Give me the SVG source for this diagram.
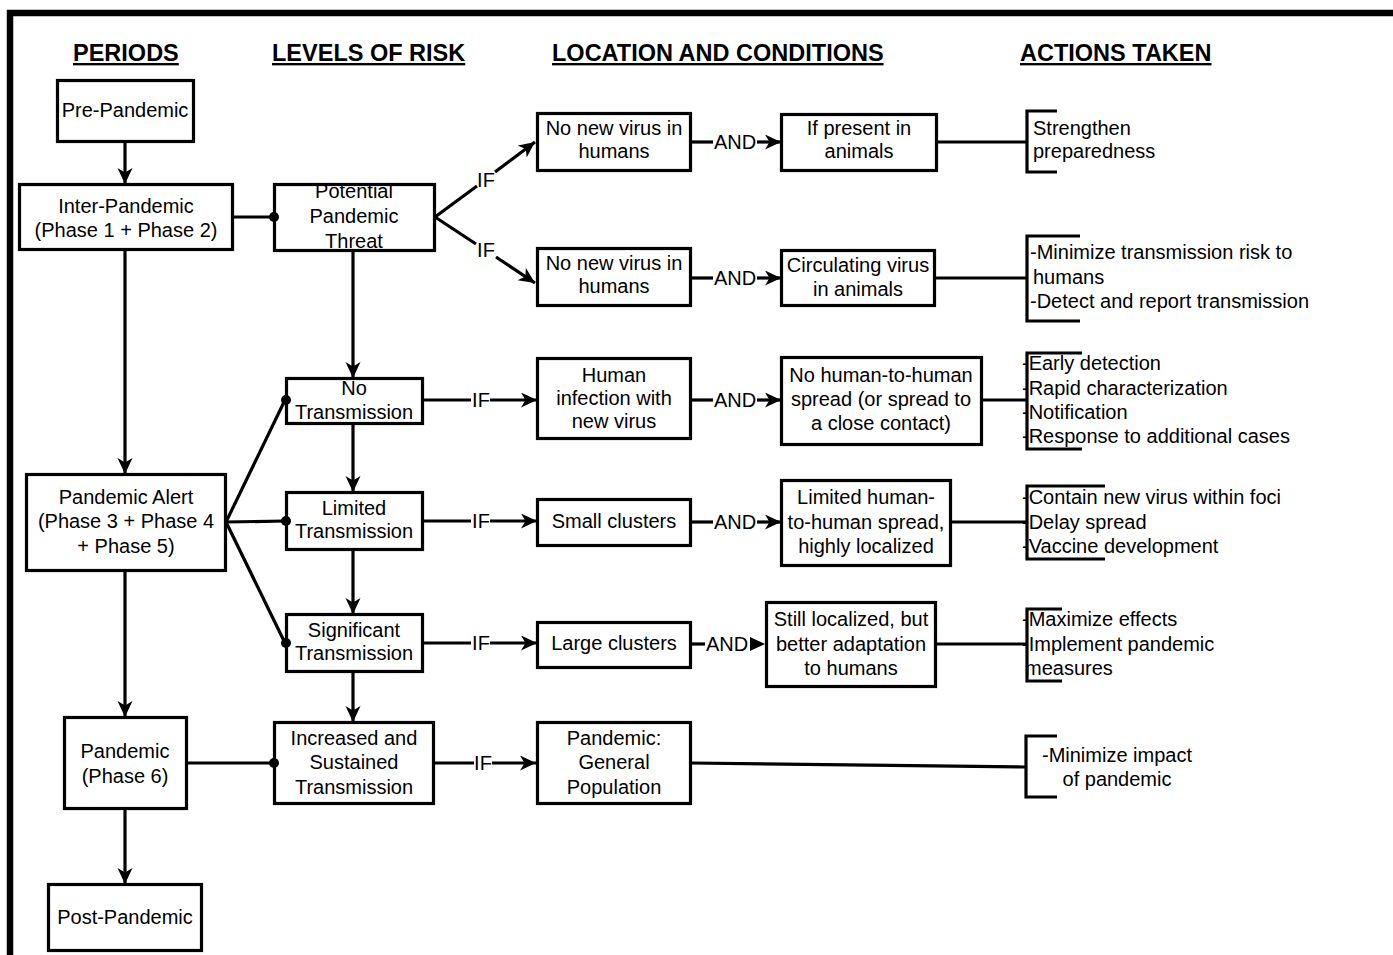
<svg xmlns="http://www.w3.org/2000/svg" width="1393" height="955" viewBox="0 0 1393 955">
<style>
.box{fill:#fff;stroke:#000;stroke-width:3.2}
.ln{fill:none;stroke:#000;stroke-width:3.2}
.arr{fill:none;stroke:#000;stroke-width:3.2;marker-end:url(#ah)}
.t{font-family:"Liberation Sans",Arial,sans-serif;font-size:20px;fill:#000}
.c{text-anchor:middle}
.h{font-family:"Liberation Sans",Arial,sans-serif;font-size:23.5px;font-weight:bold;text-decoration:underline;fill:#000}
.dot{fill:#000}
</style>
<defs>
<marker id="ah" markerUnits="userSpaceOnUse" markerWidth="18" markerHeight="16" refX="16" refY="7.5" orient="auto">
<path d="M0,0 L16,7.5 L0,15 L4.5,7.5 z" fill="#000"/>
</marker>
</defs>
<rect width="1393" height="955" fill="#fff"/>
<path d="M10,955 V13 H1393" fill="none" stroke="#000" stroke-width="6.5"/>

<g id="headers">
<text class="h" x="73" y="61">PERIODS</text>
<text class="h" x="272" y="61">LEVELS OF RISK</text>
<text class="h" x="552" y="61">LOCATION AND CONDITIONS</text>
<text class="h" x="1020" y="61">ACTIONS TAKEN</text>
</g>

<g id="pre-pandemic"><rect class="box" x="57.5" y="80.5" width="136" height="61"/><text class="t c" x="125" y="117">Pre-Pandemic</text></g>
<g id="inter-pandemic"><rect class="box" x="19.5" y="184.5" width="213" height="65"/><text class="t c" x="126" y="213">Inter-Pandemic</text><text class="t c" x="126" y="237">(Phase 1 + Phase 2)</text></g>
<g id="pandemic-alert"><rect class="box" x="26.5" y="474.5" width="199" height="96"/><text class="t c" x="126" y="504">Pandemic Alert</text><text class="t c" x="126" y="528">(Phase 3 + Phase 4</text><text class="t c" x="126" y="553">+ Phase 5)</text></g>
<g id="pandemic"><rect class="box" x="64.5" y="717.5" width="122" height="91"/><text class="t c" x="125" y="758">Pandemic</text><text class="t c" x="125" y="783">(Phase 6)</text></g>
<g id="post-pandemic"><rect class="box" x="48.5" y="884.5" width="153" height="66"/><text class="t c" x="125" y="924">Post-Pandemic</text></g>

<g id="ppt"><rect class="box" x="274.5" y="184.5" width="160" height="66"/><text class="t c" x="354" y="198">Potential</text><text class="t c" x="354" y="223">Pandemic</text><text class="t c" x="354" y="248">Threat</text></g>
<g id="no-trans"><rect class="box" x="286.5" y="378.5" width="136" height="45"/><text class="t c" x="354" y="395">No</text><text class="t c" x="354" y="419">Transmission</text></g>
<g id="lim-trans"><rect class="box" x="286.5" y="492.5" width="136" height="57"/><text class="t c" x="354" y="515">Limited</text><text class="t c" x="354" y="538">Transmission</text></g>
<g id="sig-trans"><rect class="box" x="286.5" y="614.5" width="136" height="57"/><text class="t c" x="354" y="637">Significant</text><text class="t c" x="354" y="660">Transmission</text></g>
<g id="inc-trans"><rect class="box" x="274.5" y="722.5" width="159" height="81"/><text class="t c" x="354" y="745">Increased and</text><text class="t c" x="354" y="769">Sustained</text><text class="t c" x="354" y="794">Transmission</text></g>

<g id="loc1"><rect class="box" x="537.5" y="113.5" width="153" height="57"/><text class="t c" x="614" y="135">No new virus in</text><text class="t c" x="614" y="158">humans</text></g>
<g id="loc2"><rect class="box" x="537.5" y="248.5" width="153" height="57"/><text class="t c" x="614" y="270">No new virus in</text><text class="t c" x="614" y="293">humans</text></g>
<g id="loc3"><rect class="box" x="537.5" y="358.5" width="153" height="80"/><text class="t c" x="614" y="382">Human</text><text class="t c" x="614" y="405">infection with</text><text class="t c" x="614" y="428">new virus</text></g>
<g id="loc4"><rect class="box" x="537.5" y="499.5" width="153" height="46"/><text class="t c" x="614" y="528">Small clusters</text></g>
<g id="loc5"><rect class="box" x="537.5" y="622.5" width="153" height="45"/><text class="t c" x="614" y="650">Large clusters</text></g>
<g id="loc6"><rect class="box" x="537.5" y="722.5" width="153" height="81"/><text class="t c" x="614" y="745">Pandemic:</text><text class="t c" x="614" y="769">General</text><text class="t c" x="614" y="794">Population</text></g>

<g id="cond1"><rect class="box" x="781.5" y="114.5" width="155" height="56"/><text class="t c" x="859" y="135">If present in</text><text class="t c" x="859" y="158">animals</text></g>
<g id="cond2"><rect class="box" x="781.5" y="250.5" width="153" height="55"/><text class="t c" x="858" y="272">Circulating virus</text><text class="t c" x="858" y="296">in animals</text></g>
<g id="cond3"><rect class="box" x="781.5" y="357.5" width="200" height="87"/><text class="t c" x="881" y="382">No human-to-human</text><text class="t c" x="881" y="406">spread (or spread to</text><text class="t c" x="881" y="430">a close contact)</text></g>
<g id="cond4"><rect class="box" x="781.5" y="480.5" width="169" height="85"/><text class="t c" x="866" y="504">Limited human-</text><text class="t c" x="866" y="529">to-human spread,</text><text class="t c" x="866" y="553">highly localized</text></g>
<g id="cond5"><rect class="box" x="766.5" y="602.5" width="169" height="84"/><text class="t c" x="851" y="626">Still localized, but</text><text class="t c" x="851" y="651">better adaptation</text><text class="t c" x="851" y="675">to humans</text></g>

<g id="act1"><path class="ln" d="M1057,111 H1027 V172 H1057"/><text class="t" x="1033" y="135">Strengthen</text><text class="t" x="1033" y="158">preparedness</text></g>
<g id="act2"><path class="ln" d="M1080,236 H1027 V321 H1080"/><text class="t" x="1030" y="259">-Minimize transmission risk to</text><text class="t" x="1033" y="284">humans</text><text class="t" x="1030" y="308">-Detect and report transmission</text></g>
<g id="act3"><text class="t" x="1022" y="370">-Early detection</text><text class="t" x="1022" y="395">-Rapid characterization</text><text class="t" x="1022" y="419">-Notification</text><text class="t" x="1022" y="443">-Response to additional cases</text><path class="ln" d="M1082,353 H1027 V449 H1082"/></g>
<g id="act4"><text class="t" x="1022" y="504">-Contain new virus within foci</text><text class="t" x="1022" y="529">-Delay spread</text><text class="t" x="1022" y="553">-Vaccine development</text><path class="ln" d="M1105,486 H1027 V559 H1105"/></g>
<g id="act5"><text class="t" x="1022" y="626">-Maximize effects</text><text class="t" x="1022" y="651">-Implement pandemic</text><text class="t" x="1025" y="675">measures</text><path class="ln" d="M1062,609 H1027 V681 H1062"/></g>
<g id="act6"><path class="ln" d="M1057,736 H1026 V797 H1057"/><text class="t c" x="1117" y="762">-Minimize impact</text><text class="t c" x="1117" y="786">of pandemic</text></g>

<g id="connectors">
<line class="arr" x1="125" y1="142" x2="125" y2="184"/>
<line class="arr" x1="125" y1="250" x2="125" y2="474"/>
<line class="arr" x1="125" y1="571" x2="125" y2="717"/>
<line class="arr" x1="125" y1="809" x2="125" y2="884"/>
<line class="ln" x1="233" y1="217" x2="273" y2="217"/>
<line class="ln" x1="226" y1="522" x2="285" y2="400"/>
<line class="ln" x1="226" y1="522" x2="285" y2="521"/>
<line class="ln" x1="226" y1="522" x2="285" y2="643"/>
<line class="ln" x1="187" y1="763" x2="273" y2="763"/>
<line class="arr" x1="353" y1="251" x2="353" y2="378"/>
<line class="arr" x1="353" y1="424" x2="353" y2="492"/>
<line class="arr" x1="353" y1="550" x2="353" y2="614"/>
<line class="arr" x1="353" y1="672" x2="353" y2="722"/>
<line class="ln" x1="435" y1="217" x2="477" y2="186"/>
<line class="arr" x1="495" y1="172" x2="535" y2="142"/>
<line class="ln" x1="435" y1="217" x2="476" y2="244"/>
<line class="arr" x1="496" y1="257" x2="535" y2="283"/>
<line class="ln" x1="423" y1="400" x2="471" y2="400"/>
<line class="arr" x1="490" y1="400" x2="537" y2="400"/>
<line class="ln" x1="423" y1="521" x2="471" y2="521"/>
<line class="arr" x1="490" y1="521" x2="537" y2="521"/>
<line class="ln" x1="423" y1="643" x2="471" y2="643"/>
<line class="arr" x1="490" y1="643" x2="537" y2="643"/>
<line class="ln" x1="434" y1="763" x2="474" y2="763"/>
<line class="arr" x1="492" y1="763" x2="536" y2="763"/>
<line class="ln" x1="691" y1="142" x2="713" y2="142"/>
<line class="arr" x1="757" y1="142" x2="781" y2="142"/>
<line class="ln" x1="691" y1="278" x2="713" y2="278"/>
<line class="arr" x1="757" y1="278" x2="781" y2="278"/>
<line class="ln" x1="691" y1="400" x2="713" y2="400"/>
<line class="arr" x1="757" y1="400" x2="781" y2="400"/>
<line class="ln" x1="691" y1="522" x2="713" y2="522"/>
<line class="arr" x1="757" y1="522" x2="781" y2="522"/>
<line class="ln" x1="691" y1="644" x2="705" y2="644"/>
<path d="M750,637 L765,644 L750,651 z" fill="#000"/>
<line class="ln" x1="937" y1="142" x2="1026" y2="142"/>
<line class="ln" x1="935" y1="278" x2="1026" y2="278"/>
<line class="ln" x1="982" y1="400" x2="1027" y2="400"/>
<line class="ln" x1="951" y1="522" x2="1027" y2="522"/>
<line class="ln" x1="936" y1="644" x2="1027" y2="644"/>
<line class="ln" x1="691" y1="763" x2="1025" y2="767"/>
<text class="t c" x="486" y="187">IF</text>
<text class="t c" x="486" y="257">IF</text>
<text class="t c" x="481" y="407">IF</text>
<text class="t c" x="481" y="528">IF</text>
<text class="t c" x="481" y="650">IF</text>
<text class="t c" x="483" y="770">IF</text>
<text class="t c" x="735" y="149">AND</text>
<text class="t c" x="735" y="285">AND</text>
<text class="t c" x="735" y="407">AND</text>
<text class="t c" x="735" y="529">AND</text>
<text class="t c" x="727" y="651">AND</text>
<circle class="dot" cx="274" cy="217" r="5"/>
<circle class="dot" cx="286" cy="400" r="5"/>
<circle class="dot" cx="286" cy="521" r="5"/>
<circle class="dot" cx="286" cy="643" r="5"/>
<circle class="dot" cx="274" cy="763" r="5"/>
</g>
</svg>
